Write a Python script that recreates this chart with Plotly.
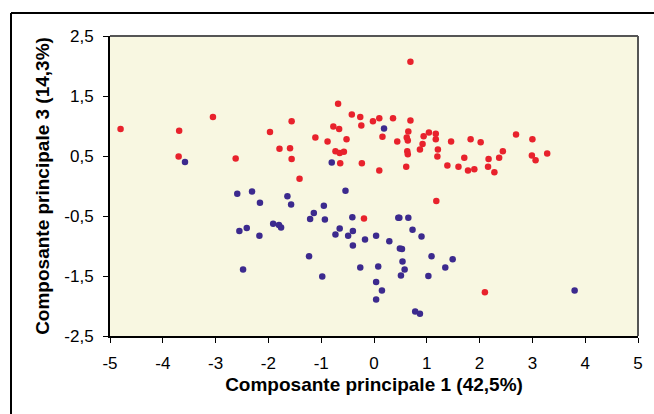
import plotly.graph_objects as go

# Group 1 (red)
red_x = [-4.80, -3.69, -3.05, -3.70, -2.62, -1.97, -1.56, -1.79, -1.59, -1.56, -1.41, -1.11,
         -0.88, -0.68, -0.77, -0.66, -0.52, -0.42, -0.26, -0.24, -0.02, 0.10, -0.73, -0.65,
         -0.57, -0.64, -0.23, 0.10, 0.69, 0.36, 0.69, 0.16, 0.44, 0.65, 0.62, 0.64, 0.63,
         0.64, 0.61, 0.87, 0.92, 0.94, 1.04, 1.17, 1.17, 1.21, 1.20, 1.46, 1.39, 1.60, 1.71,
         1.78, 1.83, 1.90, 2.02, 2.16, 2.17, 2.28, 2.37, 2.44, 2.69, 3.00, 2.99, 3.06, 3.28,
         -0.19, 1.18, 2.10]
red_y = [0.95, 0.92, 1.15, 0.49, 0.46, 0.90, 1.08, 0.62, 0.63, 0.45, 0.12, 0.81,
         0.74, 1.37, 0.99, 0.95, 0.78, 1.19, 1.15, 1.01, 1.08, 1.13, 0.58, 0.55,
         0.57, 0.38, 0.38, 0.26, 2.07, 1.13, 1.09, 0.82, 0.74, 0.91, 0.81, 0.76, 0.58,
         0.53, 0.32, 0.61, 0.70, 0.83, 0.89, 0.87, 0.78, 0.61, 0.49, 0.74, 0.34, 0.32, 0.47,
         0.26, 0.78, 0.28, 0.73, 0.32, 0.45, 0.23, 0.47, 0.58, 0.86, 0.78, 0.51, 0.43, 0.54,
         -0.54, -0.25, -1.77]

# Group 2 (blue)
blue_x = [-3.58, -0.80, 0.19, -2.59, -2.31, -2.16, -1.64, -1.57, -0.54, -0.95, -1.14, -1.21,
          -0.93, -0.41, -2.55, -2.41, -2.17, -1.91, -1.80, -1.76, -0.73, -0.65, -0.49, -0.40,
          -0.40, -0.17, 0.04, -1.23, -2.48, -0.98, -0.26, 0.08, 0.04, 0.15, 0.04, 0.46, 0.48,
          0.65, 0.73, 0.90, 0.29, 0.49, 0.53, 1.09, 1.49, 0.54, 1.35, 0.58, 0.51, 1.03, 0.78,
          0.87, 3.80]
blue_y = [0.40, 0.39, 0.96, -0.13, -0.09, -0.28, -0.17, -0.31, -0.08, -0.33, -0.45, -0.55,
          -0.56, -0.52, -0.75, -0.70, -0.83, -0.63, -0.65, -0.69, -0.81, -0.71, -0.83, -0.75,
          -0.99, -0.89, -0.83, -1.17, -1.39, -1.51, -1.36, -1.34, -1.60, -1.74, -1.89, -0.53, -0.53,
          -0.53, -0.73, -0.84, -0.92, -1.04, -1.05, -1.17, -1.22, -1.26, -1.36, -1.39, -1.49, -1.50, -2.09,
          -2.13, -1.74]

x_ticks = [-5, -4, -3, -2, -1, 0, 1, 2, 3, 4, 5]
x_labels = ["-5", "-4", "-3", "-2", "-1", "0", "1", "2", "3", "4", "5"]
y_ticks = [-2.5, -1.5, -0.5, 0.5, 1.5, 2.5]
y_labels = ["-2,5", "-1,5", "-0,5", "0,5", "1,5", "2,5"]

fig = go.Figure()
fig.add_trace(go.Scatter(x=red_x, y=red_y, mode="markers",
                         marker=dict(color="#E8222C", size=6.5, line=dict(width=0)),
                         showlegend=False))
fig.add_trace(go.Scatter(x=blue_x, y=blue_y, mode="markers",
                         marker=dict(color="#3C2A8E", size=6.5, line=dict(width=0)),
                         showlegend=False))

font_family = "Arial"

fig.update_layout(
    width=654, height=414,
    margin=dict(l=110, r=16, t=36, b=78),
    paper_bgcolor="white",
    plot_bgcolor="#F8F7E1",
    font=dict(family=font_family, size=17, color="black"),
    xaxis=dict(range=[-5, 5], tickvals=x_ticks, ticktext=x_labels,
               showgrid=False, zeroline=False, showline=True, linecolor="black", linewidth=2,
               ticks="outside", ticklen=5, tickwidth=1, tickcolor="black",
               ticklabelstandoff=6,
               tickfont=dict(size=17, family=font_family),
               title=dict(text="<b>Composante principale 1 (42,5%)</b>",
                          font=dict(size=19, family=font_family), standoff=5)),
    yaxis=dict(range=[-2.5, 2.5], tickvals=y_ticks, ticktext=y_labels,
               showgrid=False, zeroline=False, showline=True, linecolor="black", linewidth=2,
               ticks="outside", ticklen=5, tickwidth=1, tickcolor="black",
               ticklabelstandoff=6,
               tickfont=dict(size=17, family=font_family),
               title=dict(text="<b>Composante principale 3 (14,3%)</b>",
                          font=dict(size=19, family=font_family), standoff=10)),
    shapes=[
        # plot-area border (top and right)
        dict(type="line", xref="paper", yref="paper", x0=0, x1=1, y0=1, y1=1,
             line=dict(color="#555555", width=2)),
        dict(type="line", xref="paper", yref="paper", x0=1, x1=1, y0=0, y1=1,
             line=dict(color="#555555", width=2)),
        # outer chart border (top and left)
        dict(type="line", xref="paper", yref="paper", x0=-0.1875, x1=1.2, y0=1.0767, y1=1.0767,
             line=dict(color="black", width=2)),
        dict(type="line", xref="paper", yref="paper", x0=-0.1875, x1=-0.1875, y0=-0.5, y1=1.0767,
             line=dict(color="black", width=2)),
    ],
)

fig.write_html("out.html", config={"displayModeBar": False},
               post_script="document.body.style.margin='0';")
